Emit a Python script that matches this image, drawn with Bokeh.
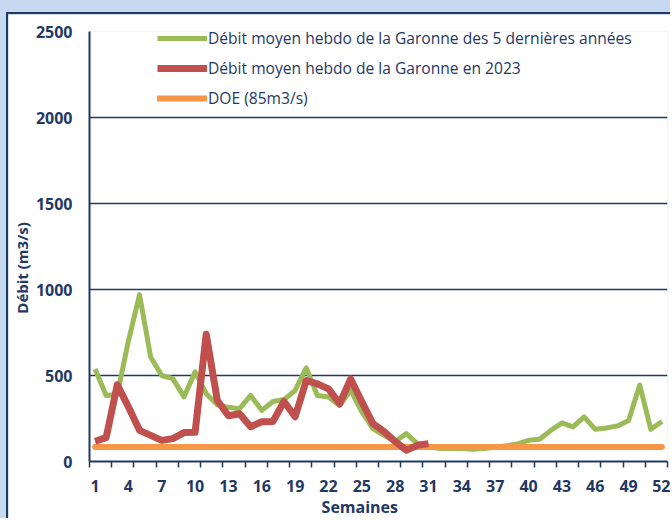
from bokeh.plotting import figure
from bokeh.layouts import column
from bokeh.models import (Range1d, FixedTicker, Legend, LegendItem,
                          ColumnDataSource)
from bokeh.embed import file_html
from bokeh.resources import INLINE

# ---- data ----
weeks = list(range(1, 53))
debit_5ans = [538, 384, 390, 700, 970, 608, 500, 482, 376, 521,
              394, 330, 315, 307, 384, 297, 349, 360, 413, 544,
              384, 375, 326, 413, 289, 191, 152, 116, 162, 104,
              87, 75, 75, 75, 71, 75, 83, 91, 102, 123,
              129, 181, 224, 201, 259, 187, 195, 207, 239, 445,
              187, 233]
weeks_2023 = list(range(1, 32))
debit_2023 = [118, 139, 446, 318, 181, 152, 123, 133, 168, 170,
              740, 355, 266, 278, 202, 231, 233, 349, 260, 471,
              451, 422, 336, 480, 347, 220, 174, 116, 65, 94, 104]
doe_weeks = [1, 52]
doe_values = [85, 85]
x_tick_labels = [1, 4, 7, 10, 13, 16, 19, 22, 25, 28, 31, 34, 37, 40, 43, 46, 49, 52]
x_minor_ticks = [0.5 + 2 * i for i in range(27)]
y_ticks = [0, 500, 1000, 1500, 2000, 2500]

label_5ans = "Débit moyen hebdo de la Garonne des 5 dernières années"
label_2023 = "Débit moyen hebdo de la Garonne en 2023"
label_doe = "DOE (85m3/s)"
y_title = "Débit (m3/s)"
x_title = "Semaines"

NAVY = "#1f3864"
GREEN = "#9bbb59"
RED = "#c0504d"
ORANGE = "#f79646"
BLUE_BG = "#c6d9f1"
NBSP = "\u00a0"

fig = figure(width=664, height=506, output_backend="svg", toolbar_location=None,
             x_range=Range1d(0.5, 52.5), y_range=Range1d(0, 2500),
             min_border_left=79, min_border_top=17, min_border_right=5,
             min_border_bottom=57)
fig.background_fill_color = "white"
fig.border_fill_color = "white"
fig.outline_line_color = None
fig.styles = {"border-top": "2px solid " + NAVY, "border-left": "2px solid " + NAVY}

src5 = ColumnDataSource(dict(x=weeks, y=debit_5ans))
src23 = ColumnDataSource(dict(x=weeks_2023, y=debit_2023))
srcd = ColumnDataSource(dict(x=doe_weeks, y=doe_values))

r5 = fig.line("x", "y", source=src5, line_color=GREEN, line_width=5, line_join="round")
rd = fig.line("x", "y", source=srcd, line_color=ORANGE, line_width=6, line_cap="round")
r23 = fig.line("x", "y", source=src23, line_color=RED, line_width=7, line_join="round")

# x axis
fig.xaxis.ticker = FixedTicker(ticks=x_tick_labels, minor_ticks=x_minor_ticks)
fig.xaxis.major_tick_out = 0
fig.xaxis.major_tick_in = 0
fig.xaxis.minor_tick_out = 6
fig.xaxis.minor_tick_in = 0
fig.xaxis.minor_tick_line_color = NAVY
fig.xaxis.minor_tick_line_width = 1.5
fig.xaxis.axis_line_color = NAVY
fig.xaxis.axis_line_width = 2
fig.xaxis.major_label_standoff = 12
fig.xaxis.major_label_text_font = "Open Sans"
fig.xaxis.major_label_text_font_style = "bold"
fig.xaxis.major_label_text_font_size = "16px"
fig.xaxis.major_label_text_color = NAVY
fig.xaxis.axis_label = x_title + NBSP * 9
fig.xaxis.axis_label_standoff = 1
fig.xaxis.axis_label_text_font = "Open Sans"
fig.xaxis.axis_label_text_font_style = "bold"
fig.xaxis.axis_label_text_font_size = "16px"
fig.xaxis.axis_label_text_color = NAVY

# y axis
fig.yaxis.ticker = FixedTicker(ticks=y_ticks)
fig.yaxis.major_tick_out = 0
fig.yaxis.major_tick_in = 0
fig.yaxis.minor_tick_line_color = None
fig.yaxis.axis_line_color = NAVY
fig.yaxis.axis_line_width = 2
fig.yaxis.major_label_standoff = 17
fig.yaxis.major_label_text_font = "Open Sans"
fig.yaxis.major_label_text_font_style = "bold"
fig.yaxis.major_label_text_font_size = "16px"
fig.yaxis.major_label_text_color = NAVY
fig.yaxis.axis_label = y_title + NBSP * 11
fig.yaxis.axis_label_standoff = 1
fig.yaxis.axis_label_text_font = "Open Sans"
fig.yaxis.axis_label_text_font_style = "bold"
fig.yaxis.axis_label_text_font_size = "15px"
fig.yaxis.axis_label_text_color = NAVY

fig.xgrid.grid_line_color = None
fig.ygrid.grid_line_color = NAVY
fig.ygrid.grid_line_width = 1.3

legend = Legend(items=[LegendItem(label=label_5ans, renderers=[r5]),
                       LegendItem(label=label_2023, renderers=[r23]),
                       LegendItem(label=label_doe, renderers=[rd])],
                location=(68, 352), orientation="vertical",
                padding=0, margin=0, spacing=8,
                glyph_width=50, glyph_height=22, label_height=22,
                label_standoff=1,
                label_text_font="Open Sans", label_text_font_size="15.6px",
                label_text_color=NAVY,
                background_fill_alpha=0, border_line_color=None)
fig.add_layout(legend)

p = column(fig, styles={"background-color": BLUE_BG,
                        "padding-left": "6px", "padding-top": "12px"})

open("out.html", "w").write(file_html(p, INLINE))
